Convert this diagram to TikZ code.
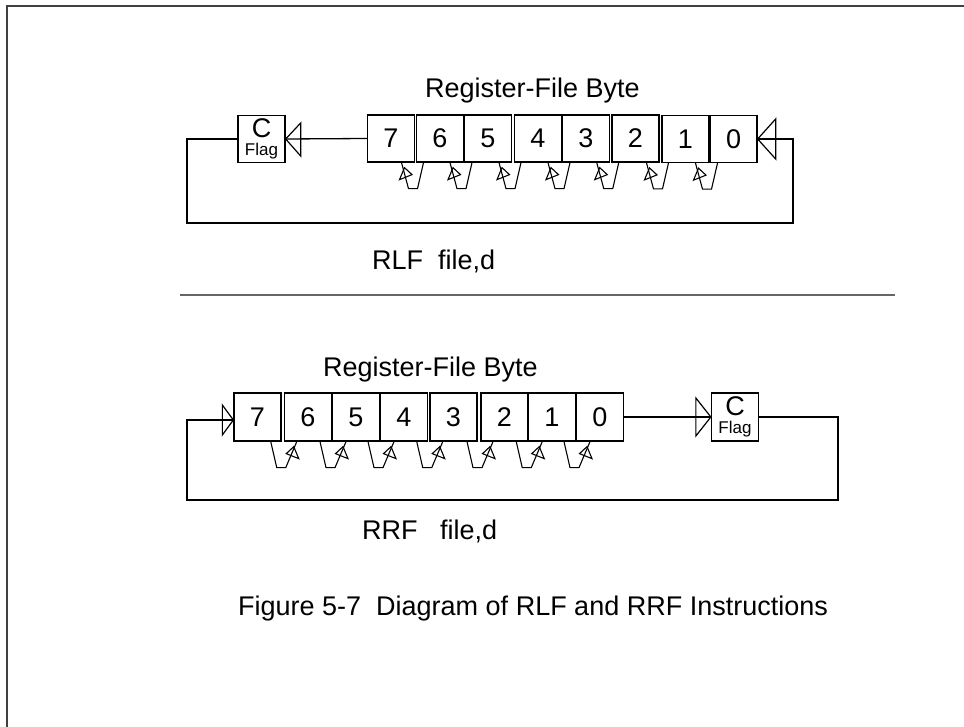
\documentclass[tikz,border=0pt]{standalone}
\usepackage{fontspec}
\setmainfont{Liberation Sans}
\usetikzlibrary{calc}
\tikzset{
  frame/.style={draw=black!75, line width=1.5pt},
  sep/.style={draw=black!60, line width=2pt},
  wire/.style={draw=black, line width=1.3pt},
  bitbox/.style={draw=black, line width=1.3pt, inner sep=0pt, minimum width=47pt, minimum height=47pt,
    font=\fontsize{27}{27}\selectfont},
  flagbox/.style={bitbox, align=center, font=\fontsize{27}{17}\selectfont},
  tri/.style={draw=black, line width=1.2pt, line join=miter},
  lbl/.style={anchor=base west, inner sep=0pt, font=\fontsize{27}{27}\selectfont},
}
\newcommand{\flagtext}{C\\[1pt]{\fontsize{17}{17}\selectfont Flag}}
\begin{document}
\begin{tikzpicture}[x=1pt,y=-1pt]
\useasboundingbox (0,0) rectangle (964,727);
% frame
\draw[frame] (7,727) -- (7,6) -- (964,6);
% separator
\draw[sep] (180,295) -- (895,295);

% ---------- top (RLF) ----------
\node[lbl] (ttitle) at (425,98) {Register-File Byte};
\node[flagbox] (tc) at (261.5,139) {\flagtext};
\node[bitbox] (t7) at (391,138.5) {7};
\node[bitbox] (t6) at (440,138.5) {6};
\node[bitbox] (t5) at (488,138.5) {5};
\node[bitbox] (t4) at (538,138.5) {4};
\node[bitbox] (t3) at (586,138.5) {3};
\node[bitbox] (t2) at (635.5,138.5) {2};
\node[bitbox] (t1) at (685.5,139) {1};
\node[bitbox] (t0) at (733.5,139) {0};
\node[lbl] (trlf) at (372,270) {RLF\ \ file,d};

\draw[wire] (t7.west) -- (tc.east);
\draw[tri] (tc.east) -- ++(15,-16) -- ++(0,33) -- cycle;
\coordinate (tra) at (793,139);
\coordinate (trb) at (793,223);
\coordinate (tla) at (187,223);
\coordinate (tlb) at (187,139);
\draw[wire] (tc.west) -- (tlb) -- (tla) -- (trb) -- (tra) -- (t0.east);
\draw[tri] (t0.east) -- ++(18,-20) -- ++(0,40) -- cycle;

\foreach \a/\b in {t7/t6,t6/t5,t5/t4,t4/t3,t3/t2,t2/t1,t1/t0}{
  \coordinate (B) at ($(\a.south east)!0.5!(\b.south west)$);
  \draw[wire, line width=1.1pt] ($(B)+(-14,0)$) -- ++(7,26) -- ++(9,0) -- ($(B)+(8,0)$);
  \draw[tri, line width=1.1pt] ($(B)+(-11,5)$) -- ($(B)+(-3.5,12)$) -- ($(B)+(-16,17)$) -- cycle;
}

% ---------- bottom (RRF) ----------
\node[lbl] (btitle) at (323,376) {Register-File Byte};
\node[bitbox, minimum height=48pt] (b7) at (257.5,417) {7};
\node[bitbox, minimum height=48pt] (b6) at (308,417) {6};
\node[bitbox, minimum height=48pt] (b5) at (356,417) {5};
\node[bitbox, minimum height=48pt] (b4) at (404,417) {4};
\node[bitbox, minimum height=48pt] (b3) at (453.5,417) {3};
\node[bitbox, minimum height=48pt] (b2) at (504.5,417) {2};
\node[bitbox, minimum height=48pt] (b1) at (552,417) {1};
\node[bitbox, minimum height=48pt] (b0) at (600,417) {0};
\node[flagbox, minimum height=48pt] (bc) at (735,417) {\flagtext};
\node[lbl] (brrf) at (362,539) {RRF\ \ \ file,d};

\draw[wire] (b0.east) -- (bc.west);
\draw[tri] (bc.west) -- ++(-15,-19) -- ++(0,38) -- cycle;
\coordinate (bra) at (838,417);
\coordinate (brb) at (838,500);
\coordinate (bla) at (187,500);
\coordinate (blb) at (187,420);
\draw[wire] (bc.east) -- (bra) -- (brb) -- (bla) -- (blb) -- (b7.west |- blb);
\draw[tri] (b7.west |- blb) -- ++(-11,-15) -- ++(0,30) -- cycle;

\foreach \a/\b in {b7/b6,b6/b5,b5/b4,b4/b3,b3/b2,b2/b1,b1/b0}{
  \coordinate (B) at ($(\a.south east)!0.5!(\b.south west)$);
  \draw[wire, line width=1.1pt] ($(B)+(-12,0)$) -- ++(6,26) -- ++(9,0) -- ($(B)+(14,0)$);
  \draw[tri, line width=1.1pt] ($(B)+(11,5)$) -- ($(B)+(3.5,12)$) -- ($(B)+(16,17)$) -- cycle;
}

% caption
\node[lbl] (cap) at (238,615) {Figure 5-7\ \ Diagram of RLF and RRF Instructions};
\end{tikzpicture}
\end{document}
